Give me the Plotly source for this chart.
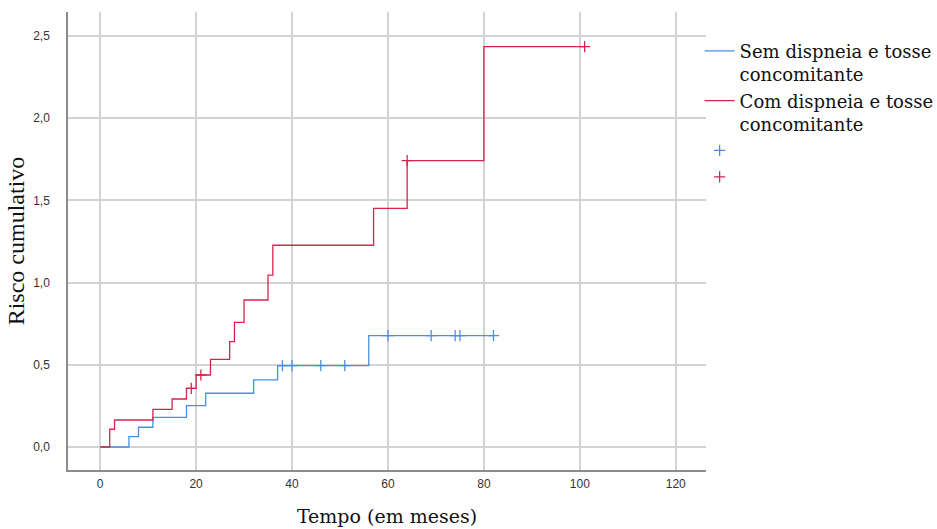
import numpy as np
import plotly.graph_objects as go

# ---- data ----
sem_times = [0, 6, 8, 11, 18, 22, 32, 37, 56, 82]
sem_values = [0.0, 0.063, 0.120, 0.180, 0.251, 0.327, 0.408, 0.495, 0.677, 0.677]
sem_censor = [38, 40, 46, 51, 60, 69, 74, 75, 82]

com_times = [0, 2, 3, 11, 15, 18, 20, 23, 27, 28, 30, 35, 36, 57, 64, 80, 101]
com_values = [0.0, 0.108, 0.164, 0.229, 0.292, 0.357, 0.438, 0.533, 0.641, 0.758,
              0.894, 1.046, 1.227, 1.452, 1.742, 2.435, 2.435]
com_censor = [19, 21, 64, 101]

x_ticks = [0, 20, 40, 60, 80, 100, 120]
y_ticks = [0.0, 0.5, 1.0, 1.5, 2.0, 2.5]
y_tick_labels = ["0,0", "0,5", "1,0", "1,5", "2,0", "2,5"]

name_sem = "Sem dispneia e tosse<br>concomitante"
name_com = "Com dispneia e tosse<br>concomitante"

BLUE = "#4A90E2"
RED = "#D8234F"


def step_at(times, values, t):
    idx = np.searchsorted(np.array(times), t, side="right") - 1
    return [values[i] for i in idx]


fig = go.Figure()
fig.add_trace(go.Scatter(x=sem_times, y=sem_values, mode="lines", line_shape="hv",
                         line=dict(color=BLUE, width=1.3), name=name_sem))
fig.add_trace(go.Scatter(x=com_times, y=com_values, mode="lines", line_shape="hv",
                         line=dict(color=RED, width=1.3), name=name_com))
fig.add_trace(go.Scatter(x=sem_censor, y=step_at(sem_times, sem_values, sem_censor),
                         mode="markers", name=" ",
                         marker=dict(symbol="cross-thin", size=8,
                                     line=dict(color=BLUE, width=1.3))))
fig.add_trace(go.Scatter(x=com_censor, y=step_at(com_times, com_values, com_censor),
                         mode="markers", name="  ",
                         marker=dict(symbol="cross-thin", size=8,
                                     line=dict(color=RED, width=1.3))))

fig.update_layout(
    width=937, height=529,
    margin=dict(l=68, r=231, t=12, b=59, autoexpand=False),
    paper_bgcolor="white", plot_bgcolor="white",
    showlegend=True,
    legend=dict(x=0.99, y=0.955, xanchor="left", yanchor="top",
                font=dict(family="DejaVu Serif", size=18, color="#111"),
                tracegroupgap=0, itemwidth=30, valign="top",
                bgcolor="rgba(0,0,0,0)"),
    xaxis=dict(range=[-6.7, 126.3], tickvals=x_ticks, showgrid=True,
               gridcolor="#d3d3d3", gridwidth=2, zeroline=False,
               showline=True, linecolor="#8c8c8c", linewidth=1.5,
               tickfont=dict(family="Liberation Sans", size=12, color="#333"),
               ticks="outside", ticklen=2, tickcolor="rgba(0,0,0,0)",
               title=dict(text="Tempo (em meses)", standoff=20,
                          font=dict(family="DejaVu Serif", size=19, color="#111"))),
    yaxis=dict(range=[-0.14, 2.646], tickvals=y_ticks, ticktext=y_tick_labels,
               showgrid=True, gridcolor="#d3d3d3", gridwidth=2, zeroline=False,
               showline=True, linecolor="#8c8c8c", linewidth=1.5,
               tickfont=dict(family="Liberation Sans", size=12, color="#333"),
               ticks="outside", ticklen=14, tickcolor="rgba(0,0,0,0)",
               title=dict(text="Risco cumulativo", standoff=2,
                          font=dict(family="Liberation Serif", size=24, color="#111"))),
)

fig.write_html("out.html")
